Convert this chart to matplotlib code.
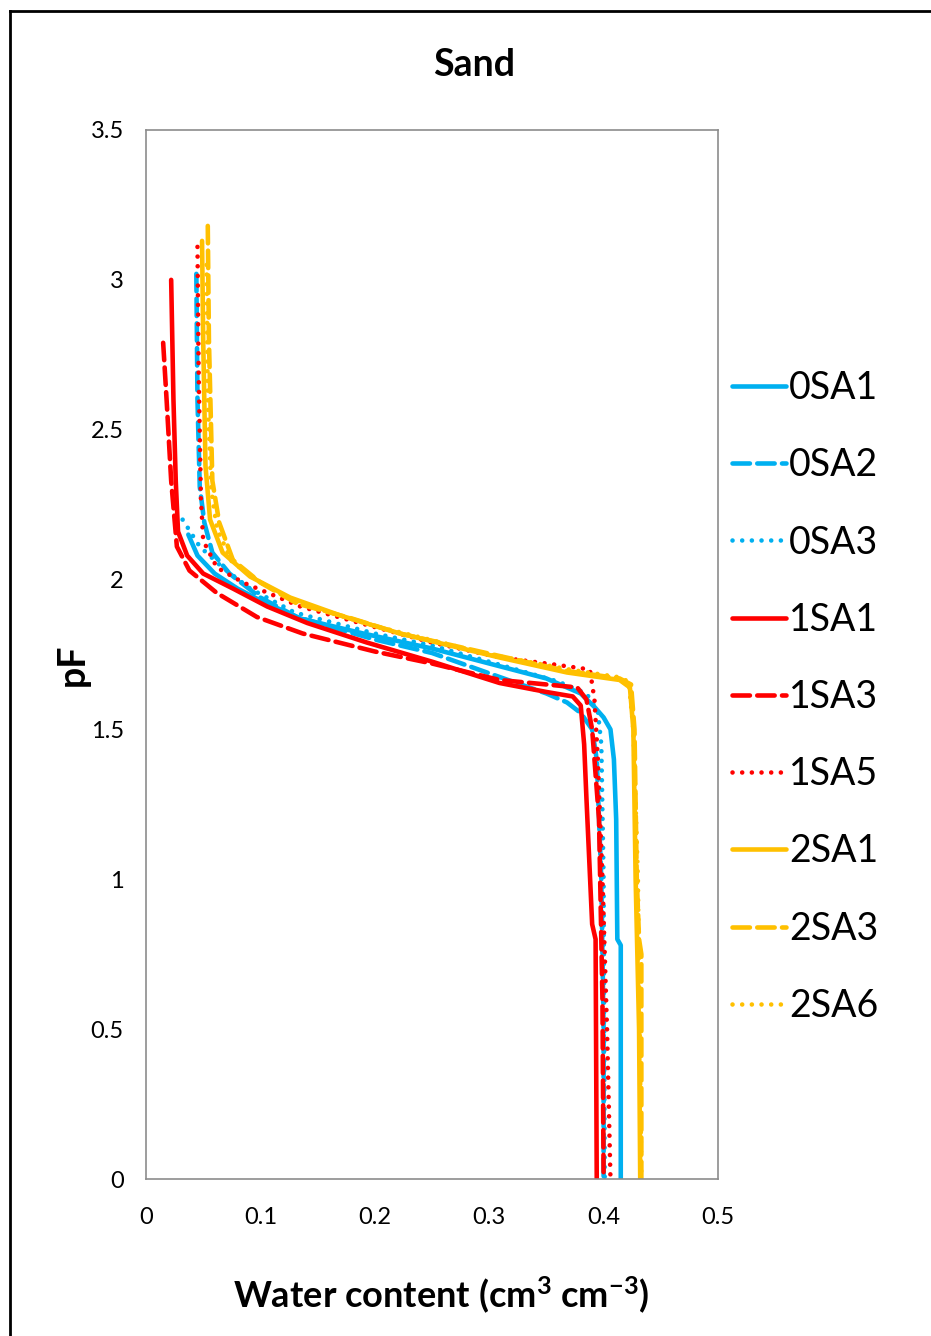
import matplotlib
matplotlib.use("Agg")
import matplotlib.pyplot as plt
from matplotlib.lines import Line2D

plt.rcParams['font.family'] = ['Lato', 'DejaVu Sans']
plt.rcParams['mathtext.fontset'] = 'custom'
plt.rcParams['mathtext.rm'] = 'Lato:bold'
plt.rcParams['mathtext.default'] = 'rm'

# retention curves: water content (cm3 cm-3) against pF
wc_0sa1 = [0.037, 0.045, 0.060, 0.080, 0.100, 0.135, 0.190, 0.250, 0.310, 0.350, 0.380, 0.392, 0.400, 0.406, 0.409, 0.411, 0.412, 0.415, 0.415]
pf_0sa1 = [2.15, 2.08, 2.02, 1.97, 1.93, 1.87, 1.82, 1.77, 1.71, 1.67, 1.62, 1.575, 1.54, 1.50, 1.40, 1.20, 0.80, 0.78, 0.0]

wc_0sa2 = [0.044, 0.045, 0.047, 0.051, 0.058, 0.073, 0.100, 0.132, 0.200, 0.250, 0.309, 0.350, 0.368, 0.380, 0.390, 0.394, 0.398, 0.400, 0.400]
pf_0sa2 = [3.02, 2.60, 2.31, 2.19, 2.09, 2.02, 1.94, 1.875, 1.80, 1.755, 1.675, 1.62, 1.59, 1.555, 1.50, 1.40, 1.00, 0.50, 0.0]

wc_0sa3 = [0.032, 0.047, 0.067, 0.091, 0.130, 0.200, 0.250, 0.310, 0.360, 0.385, 0.395, 0.398, 0.400, 0.401]
pf_0sa3 = [2.20, 2.11, 2.04, 1.97, 1.89, 1.82, 1.78, 1.715, 1.66, 1.62, 1.56, 1.45, 1.00, 0.0]

wc_1sa1 = [0.022, 0.024, 0.026, 0.028, 0.036, 0.050, 0.076, 0.106, 0.141, 0.193, 0.251, 0.309, 0.350, 0.373, 0.380, 0.383, 0.385, 0.390, 0.393, 0.394]
pf_1sa1 = [3.00, 2.60, 2.33, 2.16, 2.08, 2.02, 1.97, 1.91, 1.855, 1.79, 1.725, 1.655, 1.625, 1.61, 1.58, 1.45, 1.27, 0.85, 0.80, 0.0]

wc_1sa3 = [0.015, 0.018, 0.022, 0.027, 0.038, 0.062, 0.097, 0.137, 0.200, 0.250, 0.309, 0.350, 0.377, 0.385, 0.390, 0.396, 0.399, 0.400]
pf_1sa3 = [2.79, 2.60, 2.33, 2.11, 2.03, 1.955, 1.875, 1.82, 1.76, 1.72, 1.665, 1.65, 1.64, 1.60, 1.50, 1.20, 0.60, 0.0]

wc_1sa5 = [0.045, 0.046, 0.048, 0.050, 0.062, 0.085, 0.135, 0.187, 0.250, 0.310, 0.360, 0.388, 0.392, 0.395, 0.399, 0.403, 0.406]
pf_1sa5 = [3.11, 2.70, 2.27, 2.13, 2.04, 1.99, 1.91, 1.855, 1.79, 1.74, 1.715, 1.70, 1.60, 1.40, 1.00, 0.50, 0.0]

wc_2sa1 = [0.049, 0.050, 0.052, 0.056, 0.067, 0.091, 0.126, 0.170, 0.222, 0.309, 0.368, 0.414, 0.423, 0.426, 0.428, 0.431, 0.432]
pf_2sa1 = [3.13, 2.80, 2.38, 2.20, 2.09, 2.01, 1.94, 1.88, 1.82, 1.74, 1.69, 1.665, 1.64, 1.50, 1.00, 0.50, 0.0]

wc_2sa3 = [0.054, 0.055, 0.058, 0.064, 0.076, 0.100, 0.132, 0.180, 0.222, 0.309, 0.368, 0.414, 0.424, 0.427, 0.429, 0.431, 0.433, 0.433]
pf_2sa3 = [3.18, 2.80, 2.33, 2.19, 2.065, 1.99, 1.92, 1.87, 1.82, 1.745, 1.695, 1.67, 1.65, 1.50, 1.00, 0.80, 0.75, 0.0]

wc_2sa6 = [0.053, 0.054, 0.057, 0.062, 0.075, 0.100, 0.135, 0.200, 0.300, 0.370, 0.412, 0.422, 0.426, 0.430, 0.433]
pf_2sa6 = [3.05, 2.60, 2.30, 2.17, 2.06, 1.99, 1.92, 1.845, 1.75, 1.70, 1.675, 1.66, 1.50, 1.00, 0.0]

x_ticks = [0, 0.1, 0.2, 0.3, 0.4, 0.5]
x_labels = ['0', '0.1', '0.2', '0.3', '0.4', '0.5']
y_ticks = [0, 0.5, 1, 1.5, 2, 2.5, 3, 3.5]
y_labels = ['0', '0.5', '1', '1.5', '2', '2.5', '3', '3.5']

BLUE = '#00B0F0'
RED = '#FF0000'
GOLD = '#FFC000'
SOLID = '-'
DASH = (0, (3.8, 1.6))
DOT = (0, (0.01, 2.1))

series = [
    ('0SA1', wc_0sa1, pf_0sa1, BLUE, SOLID),
    ('0SA2', wc_0sa2, pf_0sa2, BLUE, DASH),
    ('0SA3', wc_0sa3, pf_0sa3, BLUE, DOT),
    ('1SA1', wc_1sa1, pf_1sa1, RED, SOLID),
    ('1SA3', wc_1sa3, pf_1sa3, RED, DASH),
    ('1SA5', wc_1sa5, pf_1sa5, RED, DOT),
    ('2SA1', wc_2sa1, pf_2sa1, GOLD, SOLID),
    ('2SA3', wc_2sa3, pf_2sa3, GOLD, DASH),
    ('2SA6', wc_2sa6, pf_2sa6, GOLD, DOT),
]

fig = plt.figure(figsize=(9.31, 13.36), dpi=100)
ax = fig.add_axes([146 / 931, 1 - 1179 / 1336, (718 - 146) / 931, (1179 - 130) / 1336])

for name, x, y, color, ls in series:
    ax.plot(x, y, color=color, linestyle=ls, lw=3.3, label=name,
            dash_capstyle='round', solid_capstyle='round', solid_joinstyle='round')

ax.set_xlim(0, 0.5)
ax.set_ylim(0, 3.5)
ax.set_xticks(x_ticks)
ax.set_xticklabels(x_labels)
ax.set_yticks(y_ticks)
ax.set_yticklabels(y_labels)
ax.tick_params(length=0, labelsize=17, pad=0)
ax.tick_params(axis='x', pad=20)
ax.tick_params(axis='y', pad=16)
for sp in ax.spines.values():
    sp.set_color('#8c8c8c')
    sp.set_linewidth(1.2)

leg = ax.legend(loc='center left', bbox_to_anchor=(732 / 931, 1 - 697 / 1336),
                bbox_transform=fig.transFigure, frameon=False, fontsize=27,
                handlelength=1.45, handletextpad=0.08, labelspacing=1.1,
                borderpad=0, borderaxespad=0)

fig.text(474 / 931, 1 - 65 / 1336, 'Sand', ha='center', va='center',
         fontsize=27, fontweight='bold')
fig.text(73 / 931, 1 - 665 / 1336, 'pF', ha='center', va='center',
         rotation=90, fontsize=27, fontweight='bold')
fig.text(441 / 931, 1 - 1295 / 1336, 'Water content (cm$^{3}$ cm$^{-3}$)',
         ha='center', va='center', fontsize=26, fontweight='bold')

# chart border, open on the right and bottom
fig.add_artist(Line2D([9.5 / 931, 9.5 / 931], [0, 1 - 10.5 / 1336], color='black', lw=2,
                      transform=fig.transFigure))
fig.add_artist(Line2D([9.5 / 931, 1], [1 - 10.5 / 1336, 1 - 10.5 / 1336], color='black', lw=2,
                      transform=fig.transFigure))

fig.savefig('out.png', dpi=100)
